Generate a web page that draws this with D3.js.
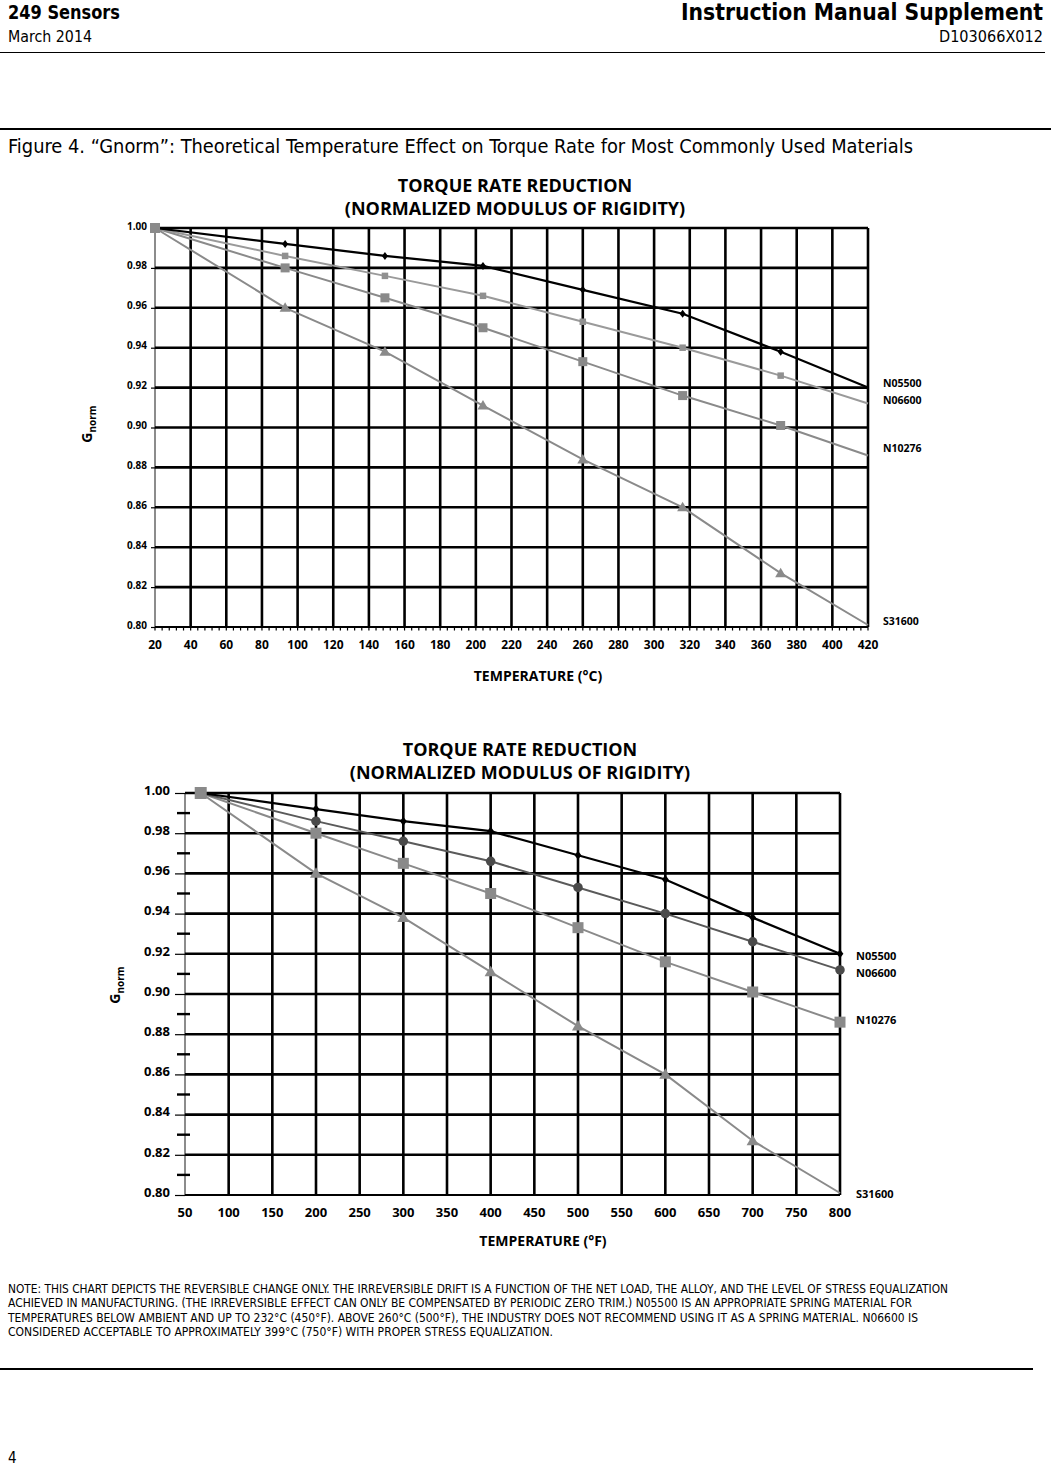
<!DOCTYPE html>
<meta charset="utf-8" />
<head>
  <script src="https://d3js.org/d3.v7.min.js"></script>
  <style>
    body { margin: 0; background: #fff; }
    svg { display: block; }
    .page { font-family: "Liberation Sans Narrow", "DejaVu Sans Condensed", sans-serif; }
    .chart text { font-family: "Open Sans", "DejaVu Sans", sans-serif; font-weight: bold; }
  </style>
</head>
<body>
<svg id="page" width="1051" height="1467"></svg>
<script>
  // data: temperature points (C for top chart, F for bottom chart)
  var tempC = [20, 93, 149, 204, 260, 316, 371, 420];
  var tempF = [68, 200, 300, 400, 500, 600, 700, 800];

  // normalized modulus per alloy
  var n05500 = [1.000, 0.992, 0.986, 0.981, 0.969, 0.957, 0.938, 0.920];
  var n06600 = [1.000, 0.986, 0.976, 0.966, 0.953, 0.940, 0.926, 0.912];
  var n10276 = [1.000, 0.980, 0.965, 0.950, 0.933, 0.916, 0.901, 0.886];
  var s31600 = [1.000, 0.960, 0.938, 0.911, 0.884, 0.860, 0.827, 0.801];

  var seriesNames = ["N05500", "N06600", "N10276", "S31600"];
  var seriesValues = [n05500, n06600, n10276, s31600];

  var ticksC = d3.range(20, 421, 20);
  var ticksF = d3.range(50, 801, 50);
  var ticksY = d3.range(0.80, 1.001, 0.02);

  var noteLines = [
    "NOTE: THIS CHART DEPICTS THE REVERSIBLE CHANGE ONLY. THE IRREVERSIBLE DRIFT IS A FUNCTION OF THE NET LOAD, THE ALLOY, AND THE LEVEL OF STRESS EQUALIZATION",
    "ACHIEVED IN MANUFACTURING. (THE IRREVERSIBLE EFFECT CAN ONLY BE COMPENSATED BY PERIODIC ZERO TRIM.) N05500 IS AN APPROPRIATE SPRING MATERIAL FOR",
    "TEMPERATURES BELOW AMBIENT AND UP TO 232\u00B0C (450\u00B0F). ABOVE 260\u00B0C (500\u00B0F), THE INDUSTRY DOES NOT RECOMMEND USING IT AS A SPRING MATERIAL. N06600 IS",
    "CONSIDERED ACCEPTABLE TO APPROXIMATELY 399\u00B0C (750\u00B0F) WITH PROPER STRESS EQUALIZATION."
  ];
  var noteWidths = [940, 904, 910, 545];

  var svg = d3.select("#page");
  var page = svg.append("g").attr("class", "page");

  // header
  page.append("text").attr("x", 8).attr("y", 19).attr("font-size", 20).attr("font-weight", "bold")
    .attr("textLength", 112).attr("lengthAdjust", "spacingAndGlyphs").text("249 Sensors");
  page.append("text").attr("x", 8).attr("y", 42).attr("font-size", 15)
    .attr("textLength", 84).attr("lengthAdjust", "spacingAndGlyphs").text("March 2014");
  page.append("text").attr("x", 1043).attr("y", 20).attr("font-size", 23).attr("font-weight", "bold")
    .attr("text-anchor", "end").attr("textLength", 362).attr("lengthAdjust", "spacingAndGlyphs")
    .text("Instruction Manual Supplement");
  page.append("text").attr("x", 1043).attr("y", 42).attr("font-size", 15).attr("text-anchor", "end")
    .attr("textLength", 104).attr("lengthAdjust", "spacingAndGlyphs").text("D103066X012");
  page.append("line").attr("x1", 0).attr("x2", 1045).attr("y1", 52.5).attr("y2", 52.5)
    .attr("stroke", "#000").attr("stroke-width", 1);
  page.append("line").attr("x1", 0).attr("x2", 1051).attr("y1", 129).attr("y2", 129)
    .attr("stroke", "#000").attr("stroke-width", 2);
  page.append("text").attr("x", 8).attr("y", 153).attr("font-size", 20)
    .attr("textLength", 905).attr("lengthAdjust", "spacingAndGlyphs")
    .text("Figure 4. \u201CGnorm\u201D: Theoretical Temperature Effect on Torque Rate for Most Commonly Used Materials");

  // note and footer
  noteLines.forEach(function (t, i) {
    page.append("text").attr("x", 8).attr("y", 1293 + i * 14.3).attr("font-size", 11.5)
      .attr("textLength", noteWidths[i]).attr("lengthAdjust", "spacingAndGlyphs").text(t);
  });
  page.append("line").attr("x1", 0).attr("x2", 1033).attr("y1", 1369).attr("y2", 1369)
    .attr("stroke", "#000").attr("stroke-width", 2);
  page.append("text").attr("x", 8).attr("y", 1463).attr("font-size", 15).text("4");

  // marker shapes
  function marker(g, type, cx, cy, size, color) {
    if (type === "diamond") {
      g.append("path").attr("d", "M" + cx + "," + (cy - size / 2) + "L" + (cx + size * 0.38) + "," + cy +
        "L" + cx + "," + (cy + size / 2) + "L" + (cx - size * 0.38) + "," + cy + "Z").attr("fill", color);
    } else if (type === "square") {
      g.append("rect").attr("x", cx - size / 2).attr("y", cy - size / 2)
        .attr("width", size).attr("height", size).attr("fill", color);
    } else if (type === "circle") {
      g.append("circle").attr("cx", cx).attr("cy", cy).attr("r", size / 2).attr("fill", color);
    } else if (type === "triangle") {
      g.append("path").attr("d", "M" + cx + "," + (cy - size * 0.55) + "L" + (cx + size * 0.55) + "," + (cy + size * 0.4) +
        "L" + (cx - size * 0.55) + "," + (cy + size * 0.4) + "Z").attr("fill", color);
    }
  }

  function drawChart(cfg) {
    var g = svg.append("g").attr("class", "chart");
    var x = d3.scaleLinear().domain(cfg.xDomain).range([cfg.left, cfg.right]);
    var y = d3.scaleLinear().domain([0.80, 1.00]).range([cfg.bottom, cfg.top]);

    // titles
    g.append("text").attr("x", cfg.titleX).attr("y", cfg.titleY).attr("text-anchor", "middle")
      .attr("font-size", 18).text("TORQUE RATE REDUCTION");
    g.append("text").attr("x", cfg.titleX).attr("y", cfg.titleY + 23).attr("text-anchor", "middle")
      .attr("font-size", 18).text("(NORMALIZED MODULUS OF RIGIDITY)");

    // grid
    g.selectAll(".vgrid").data(cfg.xTicks).enter().append("line")
      .attr("x1", function (d) { return x(d); }).attr("x2", function (d) { return x(d); })
      .attr("y1", cfg.top).attr("y2", cfg.bottom)
      .attr("stroke", function (d, i) { return i === 0 ? "#666" : "#000"; })
      .attr("stroke-width", function (d, i) { return i === 0 ? 1.5 : 2.6; });
    g.selectAll(".hgrid").data(ticksY).enter().append("line")
      .attr("x1", cfg.left).attr("x2", cfg.right)
      .attr("y1", function (d) { return y(d); }).attr("y2", function (d) { return y(d); })
      .attr("stroke", "#000").attr("stroke-width", function (d, i) { return i === 0 ? 2 : 2.6; });

    // y axis labels and ticks
    g.append("g").attr("transform", "translate(" + (cfg.left - cfg.yGap) + ",0)")
      .call(d3.axisLeft(y).tickValues(ticksY).tickSize(cfg.yTick).tickFormat(d3.format(".2f")))
      .call(function (a) {
        a.select(".domain").remove();
        a.selectAll(".tick line").attr("stroke-width", 1.2).attr("transform", "translate(" + cfg.yGap + ",0)");
        a.selectAll(".tick text").attr("font-size", cfg.yFont).attr("fill", "#000").attr("x", -2).attr("dy", "0.1em");
      });
    if (cfg.yMinor) {
      g.selectAll(".ymin").data(d3.range(0.81, 1.0, 0.02)).enter().append("line")
        .attr("x1", cfg.left - 8).attr("x2", cfg.left + 5)
        .attr("y1", function (d) { return y(d); }).attr("y2", function (d) { return y(d); })
        .attr("stroke", "#000").attr("stroke-width", 2.4);
    }

    // x axis labels
    g.selectAll(".xlab").data(cfg.xTicks).enter().append("text")
      .attr("x", function (d) { return x(d); }).attr("y", cfg.bottom + cfg.xLabDy)
      .attr("text-anchor", "middle").attr("font-size", cfg.xFont).text(function (d) { return d; });
    if (cfg.xMinor) {
      g.selectAll(".xmin").data(d3.range(cfg.xDomain[0], cfg.xDomain[1] + 0.1, cfg.xMinor)).enter().append("line")
        .attr("x1", function (d) { return x(d); }).attr("x2", function (d) { return x(d); })
        .attr("y1", cfg.bottom).attr("y2", cfg.bottom + 3.5)
        .attr("stroke", "#000").attr("stroke-width", 1.2);
    }
    g.append("text").attr("x", cfg.xTitleX).attr("y", cfg.xTitleY).attr("text-anchor", "middle")
      .attr("font-size", 14).text(cfg.xTitle);

    // G_norm label
    var gl = g.append("text").attr("transform", "translate(" + cfg.gX + "," + cfg.gY + ") rotate(-90)")
      .attr("text-anchor", "middle").attr("font-size", 14);
    gl.append("tspan").text("G");
    gl.append("tspan").attr("font-size", 10).attr("dy", 4).text("norm");

    // series lines
    var line = d3.line().x(function (d) { return x(d[0]); }).y(function (d) { return y(d[1]); });
    for (var s = seriesValues.length - 1; s >= 0; s--) {
      var pts = cfg.xVals.map(function (t, i) { return [t, seriesValues[s][i]]; });
      g.append("path").datum(pts).attr("d", line).attr("fill", "none")
        .attr("stroke", cfg.lineColors[s]).attr("stroke-width", s === 0 ? 2.2 : 2);
      pts.forEach(function (p, i) {
        if (i === 0) return;
        if (i === pts.length - 1 && !cfg.endMarkers[s]) return;
        marker(g, cfg.markers[s], x(p[0]), y(p[1]), cfg.markerSizes[s], cfg.markerColors[s]);
      });
      g.append("text").attr("x", cfg.labX).attr("y", cfg.labY[s]).attr("font-size", cfg.labFont)
        .text(seriesNames[s]);
    }
    // shared start point
    marker(g, "square", x(cfg.xVals[0]), y(1.0), cfg.startSize, "#8a8a8a");
  }

  drawChart({
    xDomain: [20, 420], left: 155, right: 868, top: 228, bottom: 627,
    xTicks: ticksC, xVals: tempC, xMinor: 4,
    titleX: 515, titleY: 192,
    yGap: 6, yTick: 4, yFont: 10, yMinor: false,
    xFont: 12, xLabDy: 22,
    xTitle: "TEMPERATURE (\u00B0C)", xTitleX: 538, xTitleY: 681,
    gX: 92, gY: 424,
    lineColors: ["#000", "#9a9a9a", "#8a8a8a", "#8a8a8a"],
    markers: ["diamond", "square", "square", "triangle"],
    markerSizes: [8, 6.5, 9, 10],
    markerColors: ["#000", "#909090", "#8a8a8a", "#8a8a8a"],
    endMarkers: [false, false, false, false],
    startSize: 10,
    labX: 883, labY: [387, 404, 452, 625], labFont: 10.5
  });

  drawChart({
    xDomain: [50, 800], left: 185, right: 840, top: 793, bottom: 1195,
    xTicks: ticksF, xVals: tempF, xMinor: 0,
    titleX: 520, titleY: 756,
    yGap: 13, yTick: 10, yFont: 13, yMinor: true,
    xFont: 13, xLabDy: 22,
    xTitle: "TEMPERATURE (\u00B0F)", xTitleX: 543, xTitleY: 1246,
    gX: 120, gY: 985,
    lineColors: ["#000", "#5a5a5a", "#8a8a8a", "#8a8a8a"],
    markers: ["diamond", "circle", "square", "triangle"],
    markerSizes: [9, 9.5, 11, 11],
    markerColors: ["#000", "#4a4a4a", "#8a8a8a", "#8a8a8a"],
    endMarkers: [true, true, true, false],
    startSize: 12,
    labX: 856, labY: [960, 977, 1024, 1198], labFont: 11
  });
</script>
</body>
